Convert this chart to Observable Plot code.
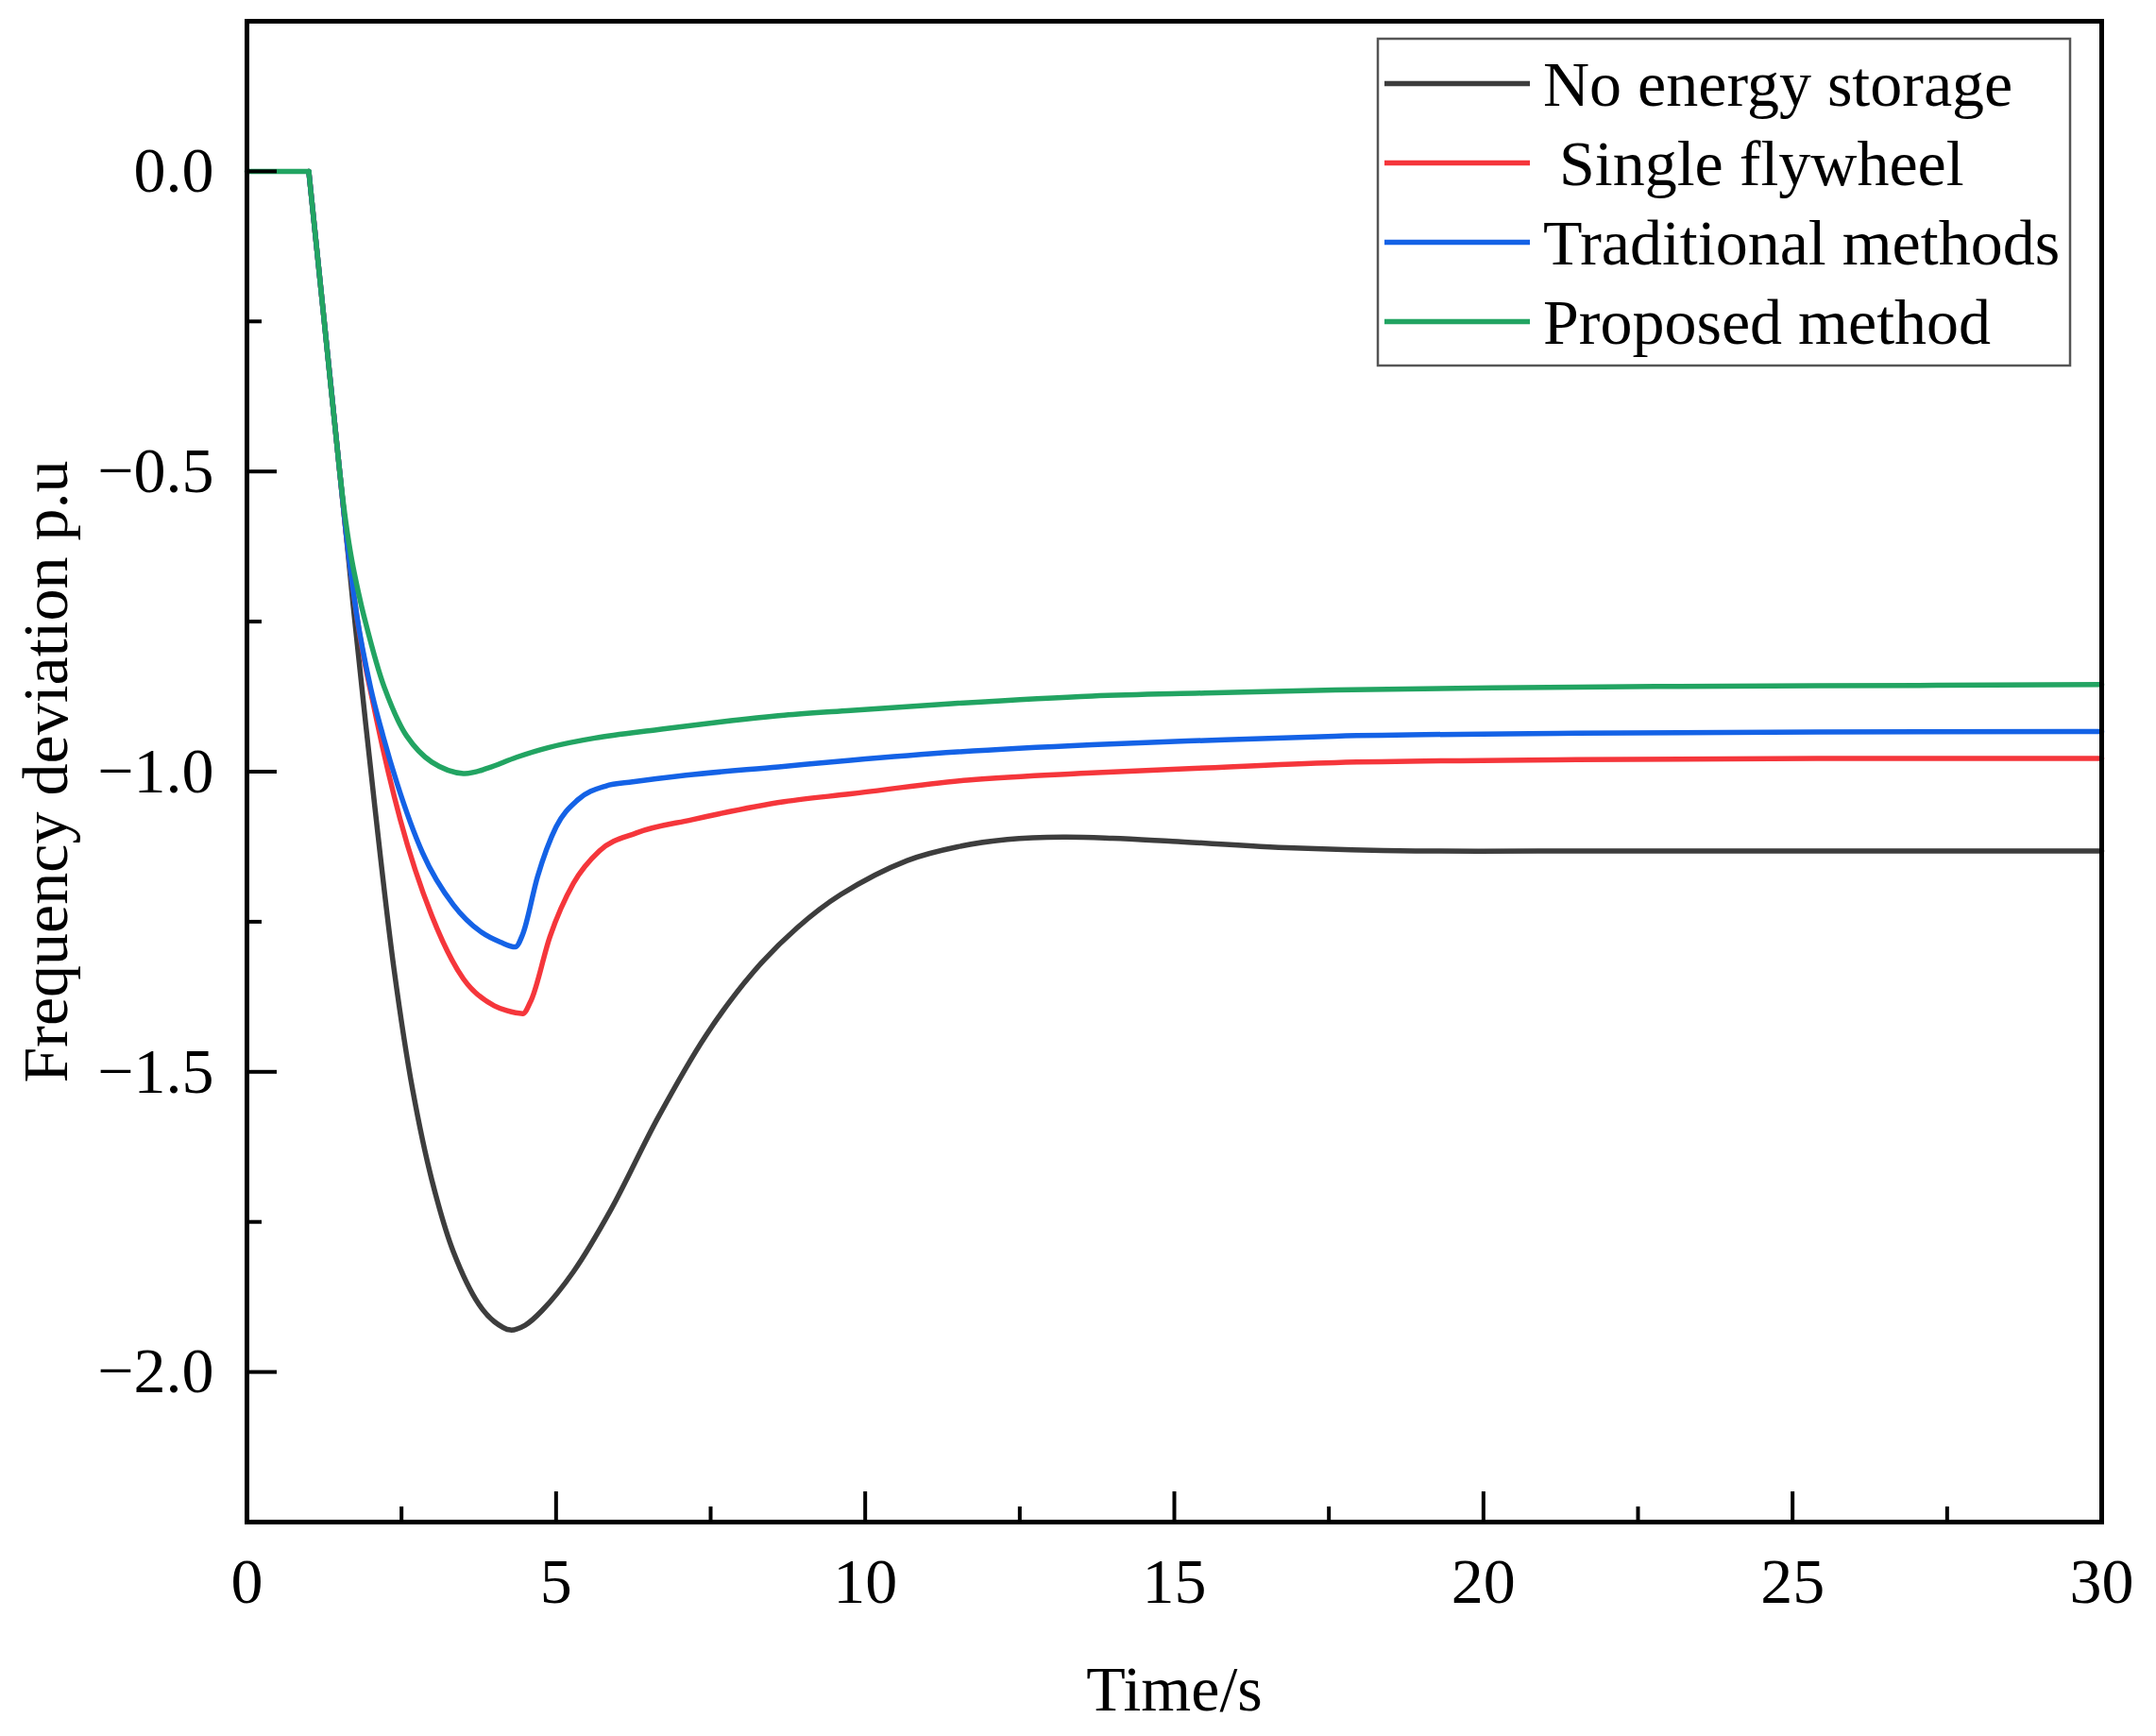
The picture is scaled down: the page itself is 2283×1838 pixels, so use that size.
<!DOCTYPE html>
<html>
<head>
<meta charset="utf-8">
<script src="https://cdn.jsdelivr.net/npm/d3@7"></script>
<script src="https://cdn.jsdelivr.net/npm/@observablehq/plot@0.6"></script>
<style>
  html, body { margin: 0; padding: 0; background: #fff; }
  #wrap { position: relative; width: 2283px; height: 1838px; font-family: "Liberation Serif", "Times New Roman", serif; }
</style>
</head>
<body>
<div id="wrap"></div>
<script>
// ---- data ----
const seriesNames = ["No energy storage", " Single flywheel", "Traditional methods", "Proposed method"];
const seriesColors = ["#3d3d3d", "#f5363b", "#1462e6", "#22a462"];
const seriesCurves = ["catmull-rom", "monotone-x", "monotone-x", "catmull-rom"];

// flat part before the disturbance (shared by all series)
const tFlat = [0, 1];
const vFlat = [0, 0];
// common initial drop
const tHead = [1, 1.05, 1.25, 1.5];
const vHead = [0, -0.05, -0.25, -0.5];

const tNoStorage = [1.6, 1.715, 2.07, 2.38, 2.68, 2.99, 3.34, 3.75, 4.0, 4.26, 4.5, 4.77, 5.28, 5.89, 6.65, 7.42, 8.18, 8.9, 9.6, 10.68, 11.5, 12.3, 13.2, 14.0, 14.97, 16.93, 18.9, 22, 26, 30];
const vNoStorage = [-0.6, -0.72, -1.06, -1.33, -1.53, -1.68, -1.80, -1.887, -1.916, -1.93, -1.922, -1.898, -1.833, -1.729, -1.576, -1.44, -1.335, -1.26, -1.205, -1.148, -1.125, -1.113, -1.109, -1.111, -1.116, -1.127, -1.132, -1.132, -1.132, -1.132];

const tFlywheel = [1.6, 1.79, 2.07, 2.48, 2.99, 3.5, 4.0, 4.2, 4.46, 4.6, 4.9, 5.28, 5.7, 6.3, 7.2, 8.69, 9.76, 11.65, 13.67, 15.24, 17.6, 21.5, 25.4, 30];
const vFlywheel = [-0.6, -0.75, -0.9, -1.08, -1.24, -1.345, -1.39, -1.398, -1.403, -1.38, -1.275, -1.186, -1.132, -1.102, -1.08, -1.05, -1.037, -1.014, -1.002, -0.995, -0.985, -0.98, -0.978, -0.978];

const tTraditional = [1.6, 1.77, 2.0, 2.2, 2.43, 2.84, 3.34, 3.8, 4.1, 4.34, 4.46, 4.7, 5.0, 5.35, 5.8, 6.24, 7.1, 8.6, 9.76, 11.5, 13.67, 15.5, 17.6, 21.5, 25.4, 30];
const vTraditional = [-0.6, -0.735, -0.86, -0.94, -1.02, -1.135, -1.222, -1.268, -1.284, -1.292, -1.271, -1.175, -1.092, -1.047, -1.024, -1.017, -1.006, -0.992, -0.981, -0.967, -0.955, -0.948, -0.941, -0.936, -0.934, -0.933];

const tProposed = [1.6, 1.7, 1.8, 1.89, 2.22, 2.58, 2.99, 3.5, 3.9, 4.36, 4.87, 5.63, 6.65, 7.67, 8.69, 9.76, 11.5, 13.67, 15.5, 17.6, 21.5, 25.4, 30];
const vProposed = [-0.585, -0.65, -0.70, -0.74, -0.859, -0.94, -0.984, -1.003, -0.994, -0.976, -0.96, -0.944, -0.93, -0.917, -0.906, -0.898, -0.886, -0.874, -0.869, -0.864, -0.859, -0.857, -0.855];

const xMajorTicks = [0, 5, 10, 15, 20, 25, 30];
const xMinorTicks = [2.5, 7.5, 12.5, 17.5, 22.5, 27.5];
const yMajorTicks = [0, -0.5, -1, -1.5, -2];
const yMinorTicks = [-0.25, -0.75, -1.25, -1.75];

const xTitle = "Time/s";
const yTitle = "Frequency deviation p.u";

// ---- build tables ----
const seriesT = [tNoStorage, tFlywheel, tTraditional, tProposed];
const seriesV = [vNoStorage, vFlywheel, vTraditional, vProposed];
const rows = [];
seriesNames.forEach((name, k) => {
  tHead.forEach((t, i) => rows.push({series: name, t, v: vHead[i]}));
  seriesT[k].forEach((t, i) => rows.push({series: name, t, v: seriesV[k][i]}));
});
const flatRows = tFlat.map((t, i) => ({t, v: vFlat[i]}));

// ---- layout ----
const W = 2283, H = 1838;
const mL = 261, mR = 58, mT = 22, mB = 227;
const plotW = W - mL - mR, plotH = H - mT - mB;
const FS = 68;
const majorLen = 32, minorLen = 16;
const LW = 5.5;

const chart = Plot.plot({
  width: W, height: H,
  marginLeft: mL, marginRight: mR, marginTop: mT, marginBottom: mB,
  style: {fontFamily: "Liberation Serif, Times New Roman, serif", fontSize: FS + "px", background: "white", color: "black"},
  x: {domain: [0, 30]},
  y: {domain: [-2.25, 0.25]},
  marks: [
    ...seriesNames.map((name, k) => Plot.line(rows.filter(d => d.series === name), {
      x: "t", y: "v", stroke: seriesColors[k], strokeWidth: LW, curve: seriesCurves[k]
    })),
    Plot.line(flatRows, {x: "t", y: "v", stroke: seriesColors[3], strokeWidth: LW, strokeLinecap: "round"}),
    Plot.tickX(xMajorTicks, {x: d => d, insetTop: plotH - majorLen, stroke: "black", strokeWidth: 4}),
    Plot.tickX(xMinorTicks, {x: d => d, insetTop: plotH - minorLen, stroke: "black", strokeWidth: 4}),
    Plot.tickY(yMajorTicks, {y: d => d, insetRight: plotW - majorLen, stroke: "black", strokeWidth: 4}),
    Plot.tickY(yMinorTicks, {y: d => d, insetRight: plotW - minorLen, stroke: "black", strokeWidth: 4}),
    Plot.frame({stroke: "black", strokeWidth: 5}),
    Plot.axisX({ticks: xMajorTicks, tickSize: 0, tickPadding: 37, tickFormat: d => String(d), fontSize: FS, label: null}),
    Plot.axisY({ticks: yMajorTicks, tickSize: 0, tickPadding: 35, tickFormat: d3.format(".1f"), fontSize: FS, label: null}),
    Plot.text([xTitle], {frameAnchor: "bottom", dy: 178, lineAnchor: "middle", textAnchor: "middle", fontSize: FS, fill: "black"}),
    Plot.text([yTitle], {frameAnchor: "left", dx: -212, rotate: -90, textAnchor: "middle", lineAnchor: "middle", fontSize: FS, fill: "black"})
  ]
});

const wrap = document.getElementById("wrap");
wrap.appendChild(chart);

// ---- legend (overlay, drawn as its own small SVG) ----
const lg = d3.create("svg")
  .attr("width", W).attr("height", 400)
  .style("position", "absolute").style("left", "0px").style("top", "0px")
  .style("font-family", "Liberation Serif, Times New Roman, serif");
lg.append("rect")
  .attr("x", 1459).attr("y", 41).attr("width", 733).attr("height", 346)
  .attr("fill", "white").attr("stroke", "#555").attr("stroke-width", 2.5);
const rowY = [88.5, 172.5, 256.5, 340.5];
seriesNames.forEach((name, k) => {
  lg.append("line")
    .attr("x1", 1466).attr("x2", 1620).attr("y1", rowY[k]).attr("y2", rowY[k])
    .attr("stroke", seriesColors[k]).attr("stroke-width", LW);
  lg.append("text")
    .attr("x", 1634).attr("y", rowY[k] + 23)
    .attr("font-size", FS).attr("fill", "black")
    .style("white-space", "pre")
    .text(name);
});
wrap.appendChild(lg.node());
</script>
</body>
</html>
